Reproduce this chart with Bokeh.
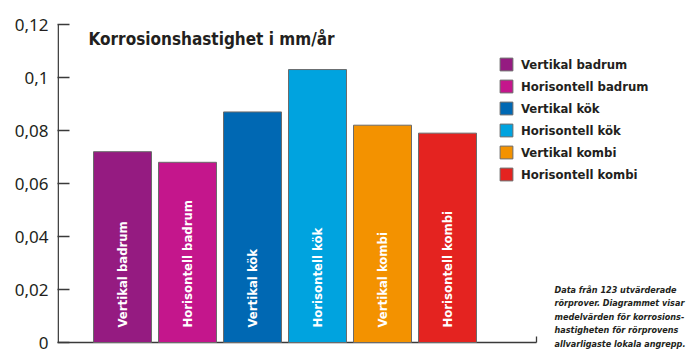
import math
from bokeh.plotting import figure
from bokeh.models import ColumnDataSource, Range1d, Legend, LegendItem, FixedTicker
from bokeh.core.properties import value
from bokeh.embed import file_html
from bokeh.resources import INLINE

# ---- data ----
categories = ["Vertikal badrum", "Horisontell badrum", "Vertikal kök",
              "Horisontell kök", "Vertikal kombi", "Horisontell kombi"]
rates = [0.072, 0.068, 0.087, 0.103, 0.082, 0.079]
colors = ["#951b81", "#c4168c", "#0068b3", "#00a3df", "#f39200", "#e42320"]
y_ticks = [0, 0.02, 0.04, 0.06, 0.08, 0.10, 0.12]
y_tick_labels = ["0", "0,02", "0,04", "0,06", "0,08", "0,1", "0,12"]
title_text = "Korrosionshastighet i mm/år"
note_lines = ["Data från 123 utvärderade",
              "rörprover. Diagrammet visar",
              "medelvärden för korrosions-",
              "hastigheten för rörprovens",
              "allvarligaste lokala angrepp."]

# ---- layout constants ----
W, H = 699, 354
LEFT = 57
BOTTOM = 4
ZERO_PX = 342          # canvas y of value 0
PX_X = 65.0            # px per category step
PX_Y = 2650.0          # px per unit value
FONT = "DejaVu Sans Condensed, Roboto"
DARK = "#231f20"

x_start = -(122 - LEFT) / PX_X
x_end = x_start + (W - LEFT) / PX_X
y_start = -((H - BOTTOM) - ZERO_PX) / PX_Y
y_end = ZERO_PX / PX_Y


def dx(px):
    return x_start + (px - LEFT) / PX_X


def dy(py):
    return (ZERO_PX - py) / PX_Y


p = figure(width=W, height=H, output_backend="svg", toolbar_location=None,
           x_range=Range1d(x_start, x_end), y_range=Range1d(y_start, y_end),
           x_axis_location=None, min_border_left=LEFT, min_border_right=0,
           min_border_top=0, min_border_bottom=BOTTOM)
p.grid.visible = False
p.outline_line_color = None
p.background_fill_color = "white"
p.border_fill_color = "white"

ax = p.yaxis[0]
ax.ticker = FixedTicker(ticks=y_ticks)
ax.major_label_overrides = {t: l for t, l in zip(y_ticks, y_tick_labels)}
ax.axis_line_color = None
ax.major_tick_in = 12
ax.major_tick_out = 0
ax.major_tick_line_color = "#3a3a3a"
ax.major_tick_line_width = 1.3
ax.minor_tick_line_color = None
ax.major_label_standoff = 9
ax.major_label_text_font = "Noto Sans"
ax.major_label_text_font_size = "17px"
ax.major_label_text_color = DARK

# axis line and baseline
p.segment(x0=[dx(57.7)], y0=[0], x1=[dx(57.7)], y1=[0.12], line_color="#3a3a3a", line_width=1.5)
p.segment(x0=[dx(57)], y0=[0], x1=[dx(536)], y1=[0], line_color="#3a3a3a", line_width=1.5)
p.segment(x0=[dx(536)], y0=[0], x1=[dx(536)], y1=[6 / PX_Y], line_color="#3a3a3a", line_width=1.3)

src = ColumnDataSource(dict(x=list(range(len(categories))), top=rates, color=colors, name=categories))
r = p.vbar(x="x", top="top", bottom=0, width=58 / PX_X, source=src, fill_color="color",
           line_color="#6b6b6b", line_width=1)

# labels inside bars
p.text(x="x", y=15 / PX_Y, text="name", source=src, angle=math.pi / 2,
       text_align="left", text_baseline="middle", text_color="white",
       text_font=value(FONT), text_font_style="bold", text_font_size="13px")

# title
p.text(x=[dx(88)], y=[dy(38)], text=[title_text], text_align="left", text_baseline="alphabetic",
       text_color=DARK, text_font=value(FONT), text_font_style="bold", text_font_size="17px")

# note
note_baselines = [289, 302.5, 316, 329.5, 343]
p.text(x=[dx(554)] * len(note_lines), y=[dy(b) for b in note_baselines], text=note_lines,
       text_align="left", text_baseline="alphabetic", text_color=DARK,
       text_font=value(FONT), text_font_style="bold italic", text_font_size="9px")

legend = Legend(items=[LegendItem(label=c, renderers=[r], index=i) for i, c in enumerate(categories)],
                location=(498 - LEFT, (H - BOTTOM) - 182))
legend.border_line_color = None
legend.background_fill_alpha = 0
legend.padding = 0
legend.margin = 0
legend.spacing = 6
legend.glyph_width = 16
legend.glyph_height = 16
legend.label_height = 16
legend.label_standoff = 7
legend.label_text_font = FONT
legend.label_text_font_style = "bold"
legend.label_text_font_size = "13px"
legend.label_text_color = DARK
legend.label_text_baseline = "middle"
p.add_layout(legend)

open("out.html", "w").write(file_html(p, INLINE))
